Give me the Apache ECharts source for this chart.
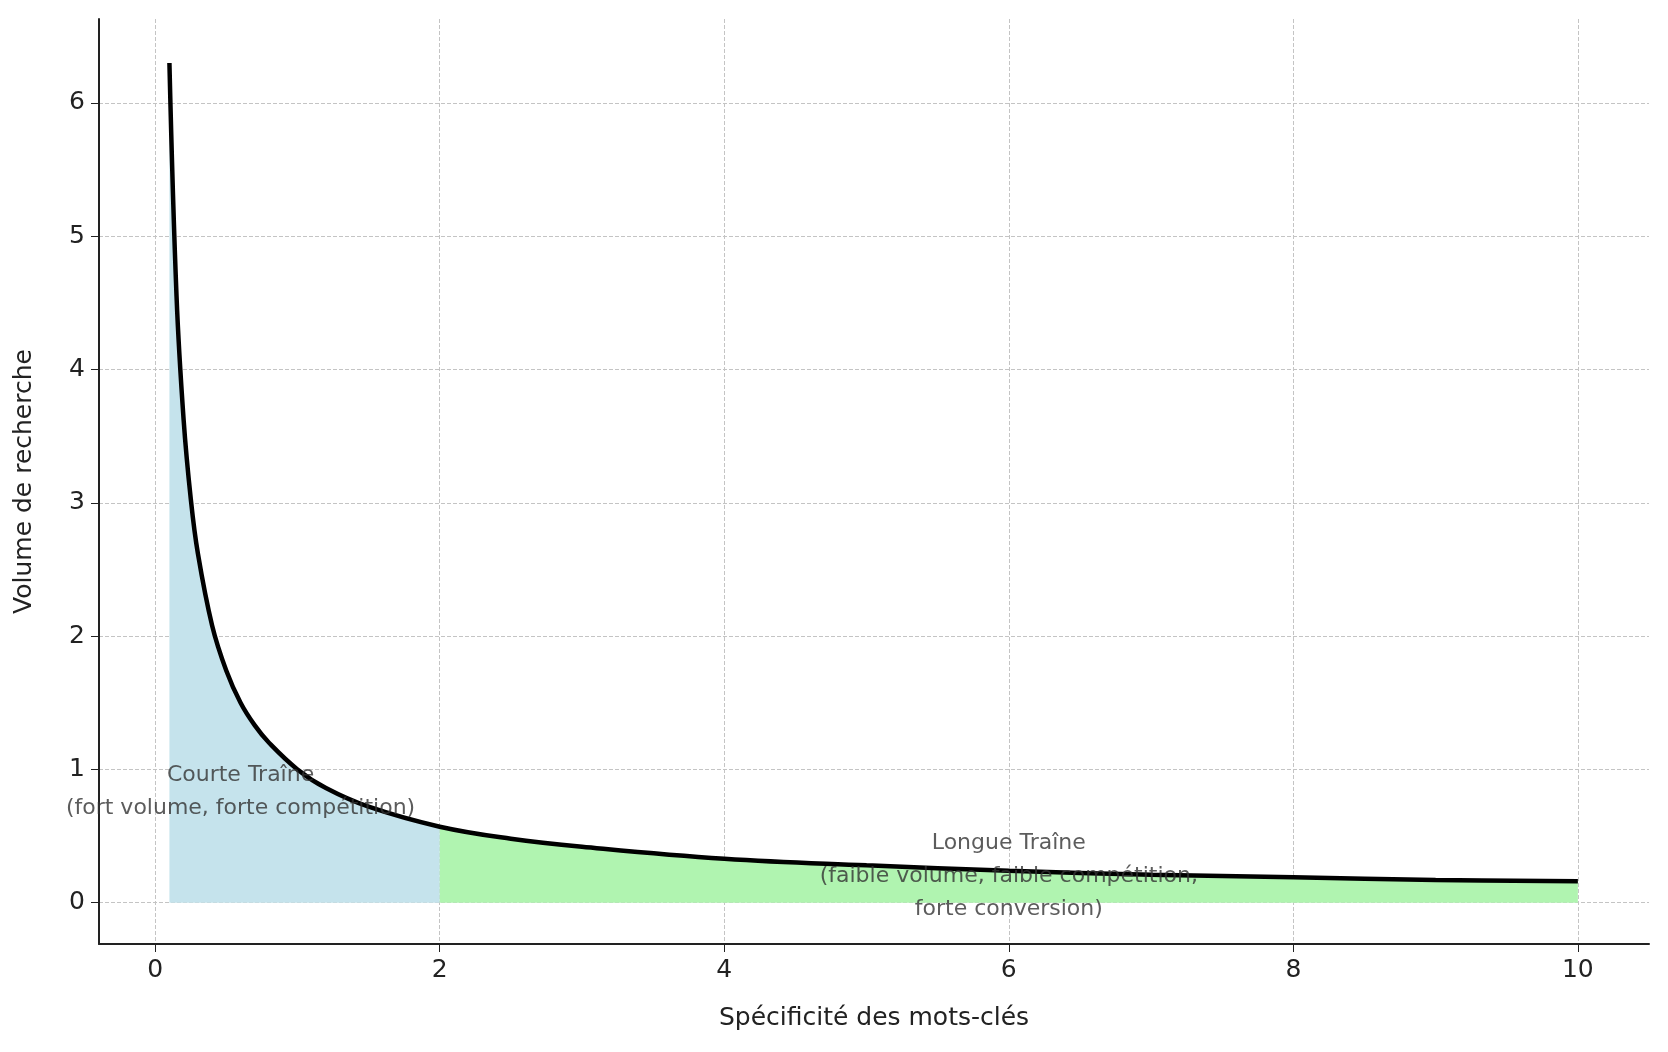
<!DOCTYPE html>
<html><head><meta charset="utf-8">
<script src="https://cdn.jsdelivr.net/npm/echarts@6/dist/echarts.min.js"></script>
<style>html,body{margin:0;background:#fff}#c{width:1668px;height:1052px}</style>
</head><body><div id="c"></div>
<script>
// valeurs
var xs = [0.1,0.15,0.2,0.25,0.3,0.4,0.5,0.6,0.7,0.8,1,1.2,1.5,2,2.5,3,4,5,6,7,8,9,10];
var ys = [6.3,4.55,3.62,3.03,2.62,2.08,1.74,1.5,1.33,1.2,1.0,0.86,0.72,0.57,0.48,0.42,0.33,0.28,0.24,0.21,0.19,0.17,0.16];
var xTicks = [0,2,4,6,8,10];
var yTicks = [0,1,2,3,4,5,6];
var courte = 'Courte Traîne\n(fort volume, forte compétition)';
var longue = 'Longue Traîne\n(faible volume, faible compétition,\nforte conversion)';

var curve = xs.map(function(x,i){return [x, ys[i]];});
var shortPart = curve.filter(function(p){return p[0] <= 2;});
var longPart = curve.filter(function(p){return p[0] >= 2;});

var chart = echarts.init(document.getElementById('c'));
var font = 'DejaVu Sans';
var grid = {show:true, lineStyle:{type:'dashed', color:'#c4c4c4', width:1}};
chart.setOption({
  animation:false,
  textStyle:{fontFamily:font},
  grid:{left:99, right:19, top:19, bottom:108},
  xAxis:{type:'value', min:-0.395, max:10.5,
    name:'Spécificité des mots-clés', nameLocation:'middle', nameGap:62,
    nameTextStyle:{fontSize:25, color:'#222', fontFamily:font},
    axisLine:{onZero:false, lineStyle:{color:'#222', width:2}},
    axisTick:{customValues:xTicks, length:8, lineStyle:{color:'#222'}},
    axisLabel:{customValues:xTicks, fontSize:25, color:'#222', margin:14},
    splitLine:grid},
  yAxis:{type:'value', min:-0.31, max:6.63,
    name:'Volume de recherche', nameLocation:'middle', nameGap:62,
    nameTextStyle:{fontSize:25, color:'#222', fontFamily:font},
    axisLine:{show:true, onZero:false, lineStyle:{color:'#222', width:2}},
    axisTick:{show:true, customValues:yTicks, length:8, lineStyle:{color:'#222'}},
    axisLabel:{customValues:yTicks, fontSize:25, color:'#222', margin:14},
    splitLine:grid},
  series:[
    {type:'line', data:shortPart, symbol:'none', smooth:0.4, lineStyle:{width:0},
      areaStyle:{color:'#c5e3ec', opacity:1, origin:0}},
    {type:'line', data:longPart, symbol:'none', smooth:0.4, lineStyle:{width:0},
      areaStyle:{color:'#b0f4b0', opacity:1, origin:0}},
    {type:'line', data:curve, symbol:'none', smooth:0.4, lineStyle:{color:'#000', width:4.5}, z:5},
    {type:'scatter', symbolSize:0, z:6, data:[
      {value:[0.6, 0.83], label:{formatter:courte}},
      {value:[6, 0.2], label:{formatter:longue}}],
      label:{show:true, position:'inside', fontSize:22, color:'#333', lineHeight:33, align:'center'}}
  ]
});
</script></body></html>
